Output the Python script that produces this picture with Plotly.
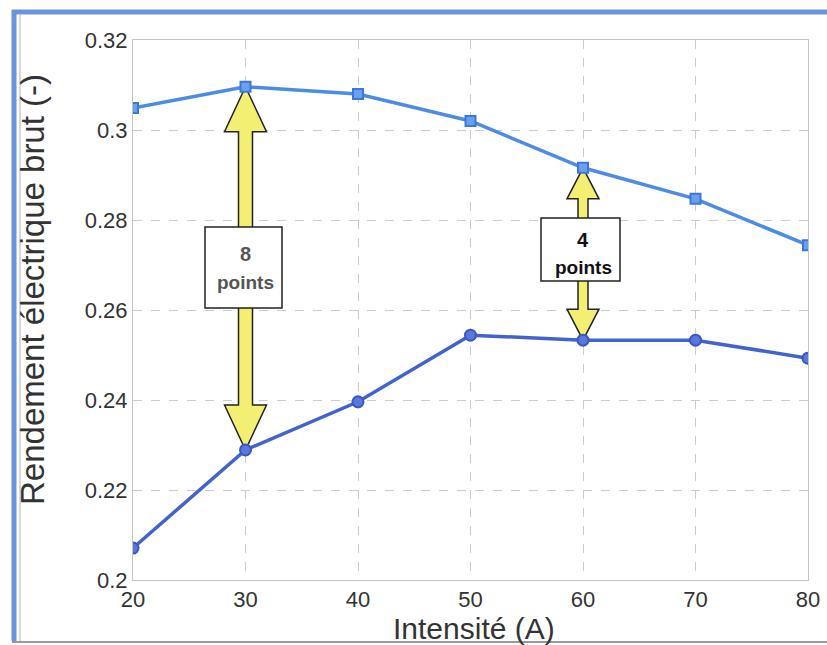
import plotly.graph_objects as go

# ---- data ----
intensite = [20, 30, 40, 50, 60, 70, 80]
rendement_haut = [0.3049, 0.3096, 0.3080, 0.3020, 0.2916, 0.2847, 0.2744]
rendement_bas = [0.2071, 0.2289, 0.2396, 0.2544, 0.2533, 0.2533, 0.2493]
x_ticks = [20, 30, 40, 50, 60, 70, 80]
y_ticks = [0.2, 0.22, 0.24, 0.26, 0.28, 0.3, 0.32]
y_tick_labels = ["0.2", "0.22", "0.24", "0.26", "0.28", "0.3", "0.32"]
ecarts = [("8", 1), ("4", 4)]  # label, index of the intensity

W, H = 827, 645
L, R, T, B = 133, 19, 40, 65
PW, PH = W - L - R, H - T - B
XR = [20, 80]
YR = [0.2, 0.32]
px_x = (XR[1] - XR[0]) / PW
px_y = (YR[1] - YR[0]) / PH

fig = go.Figure()
fig.add_trace(go.Scatter(
    x=intensite, y=rendement_haut, mode="lines+markers",
    line=dict(color="#4d8ce4", width=3.5),
    marker=dict(symbol="square", size=10, color="#6aa0ee",
                line=dict(color="#3d78d8", width=2)),
    showlegend=False))
fig.add_trace(go.Scatter(
    x=intensite, y=rendement_bas, mode="lines+markers",
    line=dict(color="#4262cc", width=3.5),
    marker=dict(symbol="circle", size=11, color="#5a78dc",
                line=dict(color="#3a58c4", width=2)),
    showlegend=False))

shapes = []
annotations = []
styles = [
    dict(head_hw=21, head_len=45, shaft_hw=7, box=(205, 282, 227, 308),
         t1=254, t2=282, tcol="#555555", fs=19),
    dict(head_hw=16, head_len=31, shaft_hw=5, box=(541, 620, 218, 281),
         t1=240, t2=267, tcol="#111111", fs=19),
]
for (lab, i), st in zip(ecarts, styles):
    xc = intensite[i]
    yt = rendement_haut[i]
    yb = rendement_bas[i]
    hw = st["head_hw"] * px_x
    sw = st["shaft_hw"] * px_x
    hl = st["head_len"] * px_y
    pts = [
        (xc, yt), (xc + hw, yt - hl), (xc + sw, yt - hl), (xc + sw, yb + hl),
        (xc + hw, yb + hl), (xc, yb), (xc - hw, yb + hl), (xc - sw, yb + hl),
        (xc - sw, yt - hl), (xc - hw, yt - hl)]
    path = "M " + " L ".join(f"{a},{b}" for a, b in pts) + " Z"
    shapes.append(dict(type="path", path=path, xref="x", yref="y",
                       fillcolor="#f3ef72", line=dict(color="#222222", width=1.5),
                       layer="between"))
    bx0, bx1, by0, by1 = st["box"]
    shapes.append(dict(type="rect", xref="x", yref="y",
                       x0=XR[0] + (bx0 - L) * px_x, x1=XR[0] + (bx1 - L) * px_x,
                       y0=YR[1] - (by0 - T) * px_y, y1=YR[1] - (by1 - T) * px_y,
                       fillcolor="white", line=dict(color="#222222", width=1.5),
                       layer="between"))
    annotations.append(dict(x=xc, y=YR[1] - (st["t1"] - T) * px_y, xref="x", yref="y",
                            text=f"<b>{lab}</b>", showarrow=False,
                            font=dict(size=st["fs"] + 1, color=st["tcol"], family="Liberation Sans")))
    annotations.append(dict(x=xc, y=YR[1] - (st["t2"] - T) * px_y, xref="x", yref="y",
                            text="<b>points</b>", showarrow=False,
                            font=dict(size=st["fs"], color=st["tcol"], family="Liberation Sans")))

def px2paper_x(p):
    return (p - L) / PW
def px2paper_y(p):
    return 1 - (p - T) / PH

# axis titles as annotations
annotations.append(dict(x=px2paper_x(32), y=px2paper_y(290), xref="paper", yref="paper",
                        text="Rendement électrique brut (-)", textangle=-90, showarrow=False,
                        xanchor="center", yanchor="middle",
                        font=dict(size=33, color="#333333", family="Liberation Sans")))
annotations.append(dict(x=px2paper_x(474), y=px2paper_y(628), xref="paper", yref="paper",
                        text="Intensité (A)", showarrow=False,
                        xanchor="center", yanchor="middle",
                        font=dict(size=30, color="#333333", family="Liberation Sans")))

# page frame (scan border)
shapes.append(dict(type="line", xref="paper", yref="paper",
                   x0=px2paper_x(12), x1=px2paper_x(827), y0=px2paper_y(12), y1=px2paper_y(12),
                   line=dict(color="#6b93de", width=5), layer="above"))
shapes.append(dict(type="line", xref="paper", yref="paper",
                   x0=px2paper_x(14), x1=px2paper_x(14), y0=px2paper_y(10), y1=px2paper_y(641),
                   line=dict(color="#6b93de", width=5), layer="above"))
shapes.append(dict(type="line", xref="paper", yref="paper",
                   x0=px2paper_x(20), x1=px2paper_x(20), y0=px2paper_y(15), y1=px2paper_y(641),
                   line=dict(color="#b0b0b0", width=1), layer="above"))
shapes.append(dict(type="line", xref="paper", yref="paper",
                   x0=px2paper_x(12), x1=px2paper_x(827), y0=px2paper_y(642), y1=px2paper_y(642),
                   line=dict(color="#999999", width=2), layer="above"))

fig.update_layout(
    width=W, height=H,
    margin=dict(l=L, r=R, t=T, b=B, autoexpand=False),
    paper_bgcolor="white", plot_bgcolor="white",
    font=dict(family="Liberation Sans", color="#333333"),
    shapes=shapes, annotations=annotations,
    xaxis=dict(range=XR, tickvals=x_ticks, ticks="", showline=True, mirror=True,
               linecolor="#c4c4c4", linewidth=1, automargin=False,
               showgrid=True, gridcolor="#cccccc", griddash="dash", gridwidth=1,
               zeroline=False, tickfont=dict(size=22, color="#333333")),
    yaxis=dict(range=YR, tickvals=y_ticks, ticktext=y_tick_labels, ticks="",
               showline=True, mirror=True, linecolor="#c4c4c4", linewidth=1, automargin=False,
               showgrid=True, gridcolor="#cccccc", griddash="dash", gridwidth=1,
               zeroline=False, tickfont=dict(size=22, color="#333333")),
)

fig.write_html("out.html", config={"displayModeBar": False},
               post_script="document.body.style.margin='0';document.body.style.overflow='hidden';")
